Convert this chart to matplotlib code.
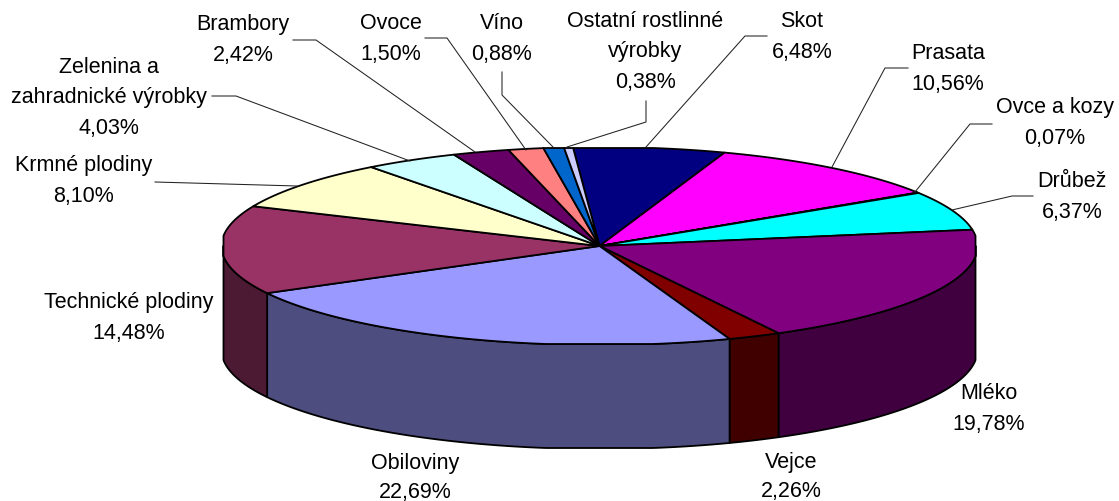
"""3D-look pie of agricultural output shares, drawn as polygons in pixel coordinates."""
import numpy as np
import matplotlib
matplotlib.use("Agg")
import matplotlib.pyplot as plt
from matplotlib.patches import Polygon

plt.rcParams["font.family"] = ["Liberation Sans", "DejaVu Sans"]

labels = ["Skot", "Prasata", "Ovce a kozy", "Drůbež", "Mléko", "Vejce", "Obiloviny",
          "Technické plodiny", "Krmné plodiny", "Zelenina a\nzahradnické výrobky",
          "Brambory", "Ovoce", "Víno", "Ostatní rostlinné\nvýrobky"]
values = [6.48, 10.56, 0.07, 6.37, 19.78, 2.26, 22.69, 14.48, 8.10, 4.03, 2.42, 1.50, 0.88, 0.38]
colors = ["#000080", "#FF00FF", "#FFFF00", "#00FFFF", "#800080", "#800000", "#9999FF",
          "#993366", "#FFFFCC", "#CCFFFF", "#660066", "#FF8080", "#0066CC", "#CCCCFF"]
label_pos = [(802, 37), (948, 69), (1055, 123), (1072, 197), (989, 409), (791, 477), (415, 478),
             (129, 318), (84, 181), (109, 98), (243, 40), (391, 39), (502, 39), (645, 52)]
leaders = [[(767, 37), (745, 37), (646, 148)],
           [(908, 69), (885, 69), (832, 168)],
           [(992, 125), (970, 125), (915, 193)],
           [(1033, 197), (1012, 197), (952, 211)],
           None, None, None, None,
           [(155, 183), (297, 187)],
           [(212, 97), (236, 97), (410, 162)],
           [(293, 41), (316, 41), (475, 153)],
           [(425, 39), (447, 39), (526, 151)],
           [(502, 73), (502, 96), (553, 148)],
           [(646, 102), (646, 123), (567, 148)]]

CX, CY, RX, RY, DEPTH = 599.5, 247, 378, 99, 104
START = -4.0  # degrees clockwise from 12 o'clock
EDGE = 1.3


def rim(a0, a1):
    # the reference outline is slightly flattened at the extremes, hence the clip
    t = np.radians(np.linspace(a0, a1, max(int(a1 - a0) * 2, 2)))
    x = np.clip(CX + RX * np.sin(t), CX - 376, CX + 376)
    y = np.clip(CY - RY * np.cos(t), CY - 98, CY + 98)
    return np.column_stack([x, y])


def darker(c):
    return tuple(v / 2 for v in matplotlib.colors.to_rgb(c))


fig = plt.figure(figsize=(11.19, 5.02), dpi=100)
ax = fig.add_axes([0, 0, 1, 1])
ax.set_xlim(0, 1119)
ax.set_ylim(502, 0)
ax.axis("off")

edges = START + np.concatenate([[0], np.cumsum(values)]) * 3.6
for i, c in enumerate(colors):
    a0, a1 = edges[i], edges[i + 1]
    # side wall: only the part on the front half of the ellipse shows
    s0, s1 = max(a0, 90), min(a1, 270)
    if s1 > s0:
        top = rim(s0, s1)
        wall = np.vstack([top, top[::-1] + [0, DEPTH]])
        ax.add_patch(Polygon(wall, fc=darker(c), ec="black", lw=EDGE, joinstyle="round"))
for i, c in enumerate(colors):
    wedge = np.vstack([[CX, CY], rim(edges[i], edges[i + 1])])
    ax.add_patch(Polygon(wedge, fc=c, ec="black", lw=EDGE, joinstyle="round"))

for name, v, (x, y), lead in zip(labels, values, label_pos, leaders):
    txt = f"{name}\n{v:.2f}%".replace(".", ",")
    # bottom two labels sit against the image edge, so tighter spacing there
    spacing = 1.5 if y > 470 else 1.62
    ax.text(x, y, txt, ha="center", va="center", fontsize=15.5, linespacing=spacing, color="black")
    if lead:
        ax.plot(*zip(*lead), color="#222222", lw=0.75)

fig.savefig("out.png", dpi=100)
